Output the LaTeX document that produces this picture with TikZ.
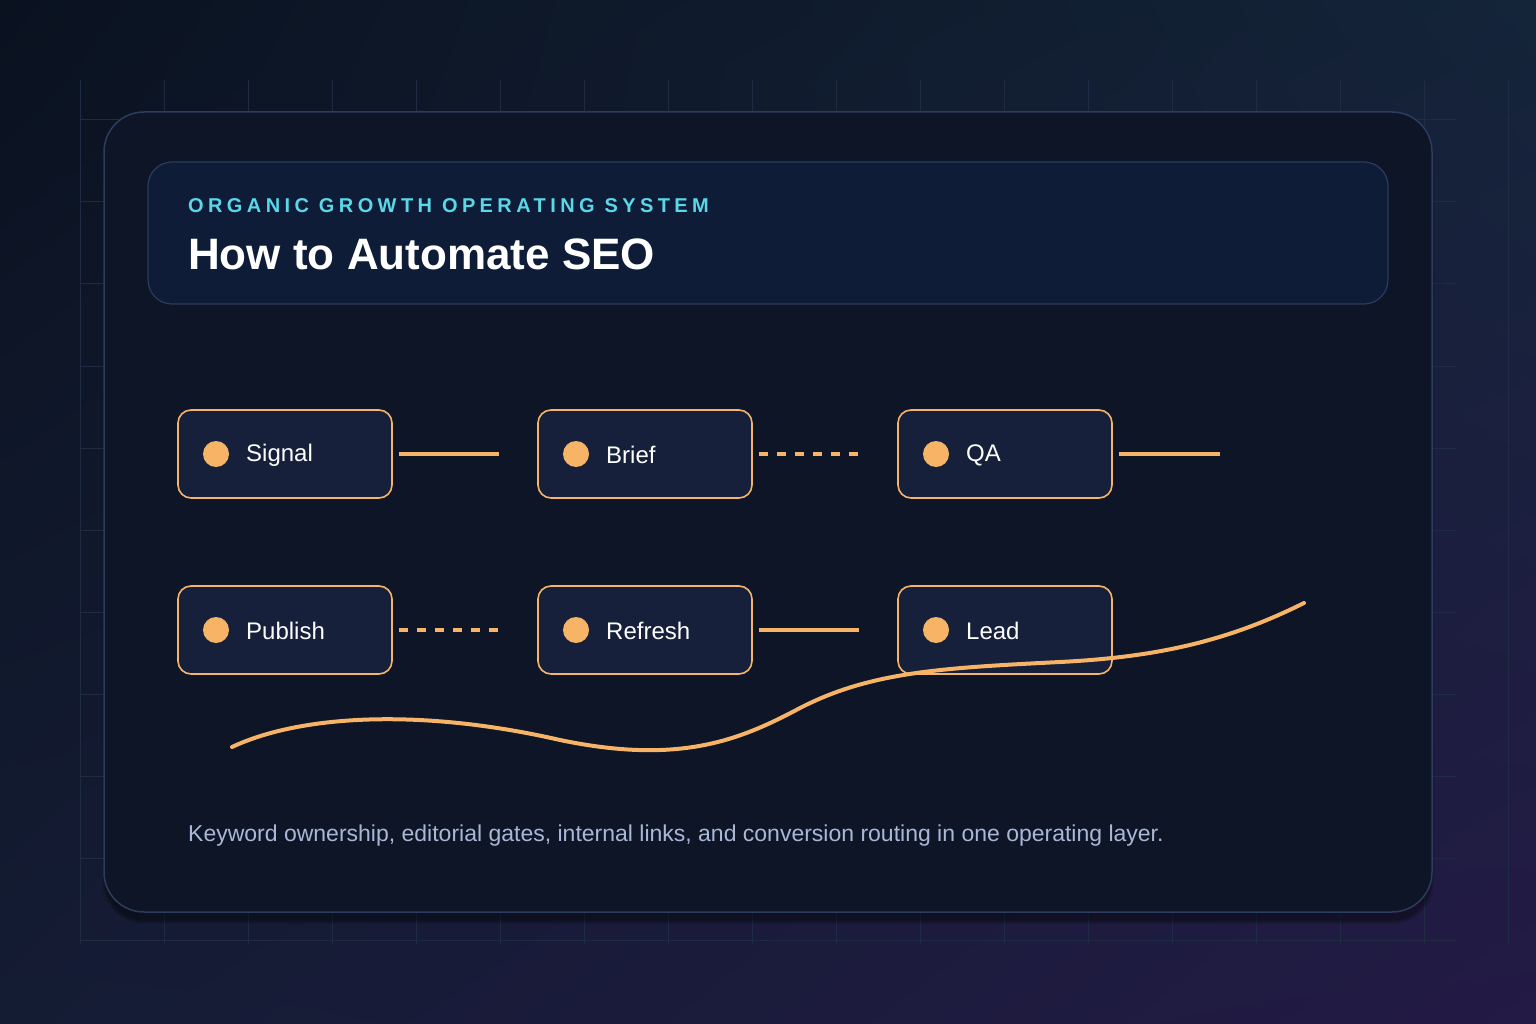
\documentclass[tikz,border=0pt]{standalone}
\usepackage{fontspec}
\setmainfont{Liberation Sans}
\newfontfamily\spacedf[LetterSpace=22]{Liberation Sans}
\usetikzlibrary{shadows.blur,shadings}
\definecolor{bgA}{HTML}{0A1220}
\definecolor{bgB}{HTML}{142439}
\definecolor{bgC}{HTML}{231A45}
\definecolor{bgD}{HTML}{141C34}
\definecolor{gridc}{HTML}{1E2B42}
\definecolor{cardf}{HTML}{0D1526}
\definecolor{cardb}{HTML}{2B3C5C}
\definecolor{headf}{HTML}{0E1C37}
\definecolor{nodef}{HTML}{16203A}
\definecolor{orng}{HTML}{F7B467}
\definecolor{cyanc}{HTML}{5AD8E8}
\definecolor{foot}{HTML}{A9B8D6}
\tikzset{
  stepbox/.style={draw=orng,line width=1.6pt,fill=nodef,rounded corners=13pt,minimum width=214pt,minimum height=88pt,inner sep=0pt},
  dot/.style={circle,fill=orng,minimum size=26pt,inner sep=0pt},
  lbl/.style={anchor=west,text=white,font=\fontsize{24}{28}\selectfont,inner sep=0pt},
  conn/.style={orng,line width=3.5pt},
  dconn/.style={conn,dash pattern=on 9pt off 9pt},
}
\begin{document}
\begin{tikzpicture}[x=1pt,y=-1pt]
\useasboundingbox (0,0) rectangle (1536,1024);
\shade[upper left=bgA,upper right=bgB,lower right=bgC,lower left=bgD] (0,0) rectangle (1536,1024);
\foreach \i in {0,...,17} \draw[gridc,line width=1pt] (80+84*\i,80) -- (80+84*\i,944);
\foreach \j in {0,...,10} \draw[gridc,line width=1pt] (80,120+82*\j) -- (1456,120+82*\j);
\node[draw=cardb,line width=1.5pt,fill=cardf,rounded corners=40pt,minimum width=1328pt,minimum height=800pt,inner sep=0pt,blur shadow={shadow blur steps=8,shadow xshift=0pt,shadow yshift=-10pt,shadow opacity=40}] (card) at (768,512) {};
\node[draw=cardb,line width=1.2pt,fill=headf,rounded corners=24pt,minimum width=1240pt,minimum height=142pt,inner sep=0pt] (head) at (768,233) {};
\node[anchor=base west,inner sep=0pt,text=cyanc,font=\spacedf\bfseries\fontsize{20}{24}\selectfont] (kick) at (188,213) {ORGANIC GROWTH OPERATING SYSTEM};
\node[anchor=base west,inner sep=0pt,text=white,font=\bfseries\fontsize{44}{50}\selectfont] (title) at (188,270) {How to Automate SEO};
\foreach \n/\t/\x/\y in {s/Signal/285/454,b/Brief/645/454,q/QA/1005/454,p/Publish/285/630,r/Refresh/645/630,l/Lead/1005/630}{
  \node[stepbox] (\n) at (\x,\y) {};
  \node[dot] (\n d) at (\x-69,\y) {};
  \node[lbl] (\n t) at (\x-39,\y+1) {\t};
}
\coordinate (qend) at (1220,454);
\draw[conn] ([xshift=6pt]s.east) -- ([xshift=-38pt]b.west);
\draw[dconn] ([xshift=6pt]b.east) -- ([xshift=-38pt]q.west);
\draw[conn] ([xshift=6pt]q.east) -- (qend);
\draw[dconn] ([xshift=6pt]p.east) -- ([xshift=-38pt]r.west);
\draw[conn] ([xshift=6pt]r.east) -- ([xshift=-38pt]l.west);
\coordinate (c0) at (232,747);
\coordinate (c1) at (1304,603);
\draw[orng,line width=4pt,line cap=round] (c0) .. controls (300,715) and (420,708) .. (560,740)
  .. controls (680,765) and (740,740) .. (800,708)
  .. controls (870,672) and (940,668) .. (1060,662)
  .. controls (1160,657) and (1230,640) .. (c1);
\node[anchor=base west,inner sep=0pt,text=foot,font=\fontsize{23}{28}\selectfont] (ft) at (188,841) {Keyword ownership, editorial gates, internal links, and conversion routing in one operating layer.};
\end{tikzpicture}
\end{document}
